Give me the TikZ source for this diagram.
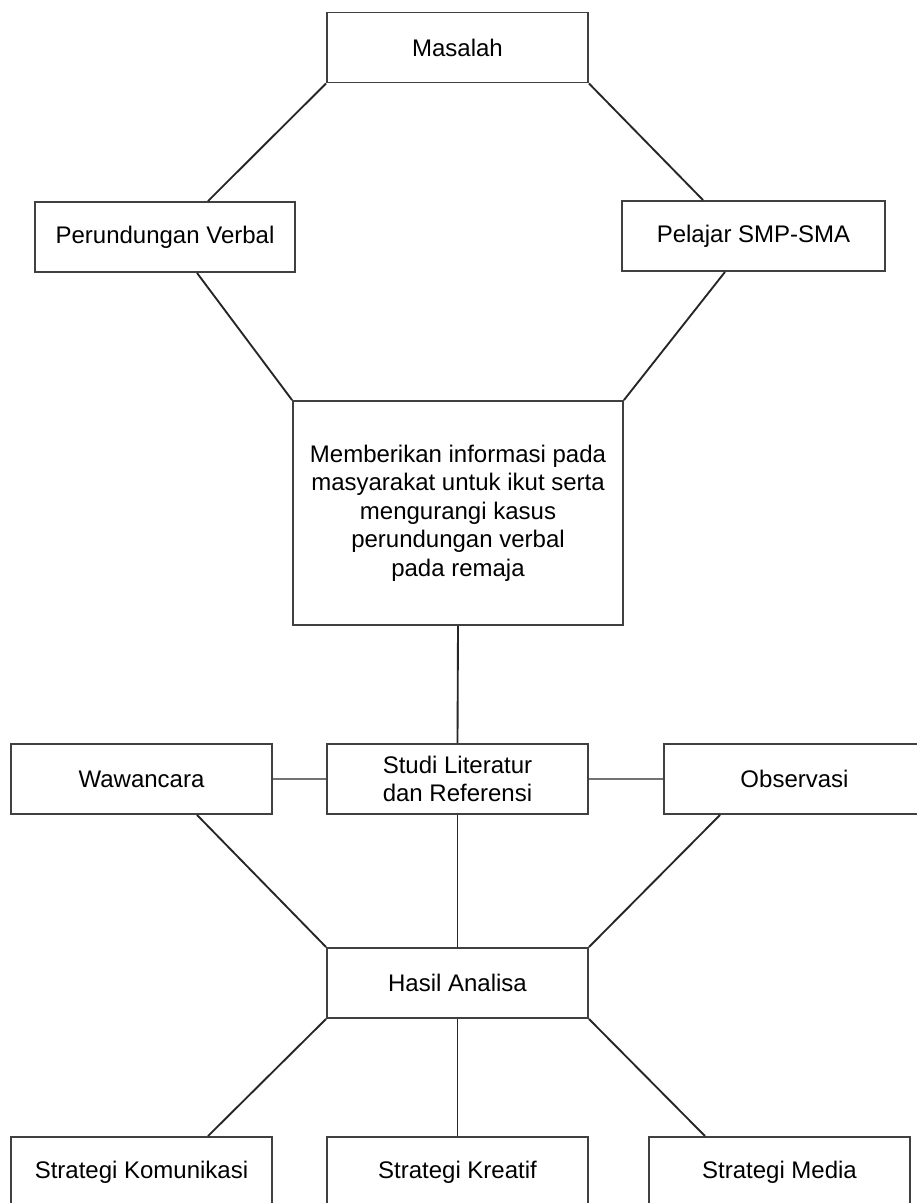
\documentclass[tikz,border=0pt]{standalone}
\usepackage{fontspec}
\setmainfont{Liberation Sans}
\usetikzlibrary{calc}

\begin{document}
\begin{tikzpicture}[
  x=0.75pt, y=-0.75pt,
  box/.style={rectangle, draw=black!75, line width=1.4pt, inner sep=0pt,
    minimum width=195.75pt, minimum height=52.5pt, align=center,
    font=\fontsize{18}{21.3}\selectfont},
  link/.style={draw=black!85, line width=1.4pt},
  side/.style={draw=black!55, line width=2.2pt}
]
  \useasboundingbox (0,0) rectangle (917,1203);
  \clip (0,0) rectangle (917,1203);

  \node[box] (masalah) at (457.5,47.5) {Masalah};
  \node[box, minimum width=195pt] (verbal) at (165,237) {Perundungan Verbal};
  \node[box, minimum width=197.25pt] (pelajar) at (753.5,236) {Pelajar SMP-SMA};
  \node[box, minimum width=247.5pt, minimum height=168pt] (tujuan) at (458,513)
    {Memberikan informasi pada\\masyarakat untuk ikut serta\\mengurangi kasus\\perundungan verbal\\pada remaja};

  \node[box] (wawancara) at (141.5,779) {Wawancara};
  \node[box] (studi) at (457.5,779) {Studi Literatur\\dan Referensi};
  \node[box] (observasi) at (794.5,779) {Observasi};

  \node[box] (hasil) at (457.5,983) {Hasil Analisa};

  \node[box] (komunikasi) at (141.5,1172) {Strategi Komunikasi};
  \node[box] (kreatif) at (457.5,1172) {Strategi Kreatif};
  \node[box] (media) at (779.5,1172) {Strategi Media};

  % atas
  \draw[link] (masalah.south west) -- ($(verbal.north)+(43,0)$);
  \draw[link] (masalah.south east) -- ($(pelajar.north)+(-50.5,0)$);
  \draw[link] ($(verbal.south)+(32,0)$) -- (tujuan.north west);
  \draw[link] ($(pelajar.south)+(-28.5,0)$) -- (tujuan.north east);
  \draw[link] (tujuan.south) -- (studi.north);

  % metode
  \draw[side] (wawancara.east) -- (studi.west);
  \draw[side] (studi.east) -- (observasi.west);
  \draw[link] ($(wawancara.south)+(55.5,0)$) -- (hasil.north west);
  \draw[link] (studi.south) -- (hasil.north);
  \draw[link] ($(observasi.south)+(-74.5,0)$) -- (hasil.north east);

  % strategi
  \draw[link] (hasil.south west) -- ($(komunikasi.north)+(66.5,0)$);
  \draw[link] (hasil.south) -- (kreatif.north);
  \draw[link] (hasil.south east) -- ($(media.north)+(-74.5,0)$);
\end{tikzpicture}
\end{document}
